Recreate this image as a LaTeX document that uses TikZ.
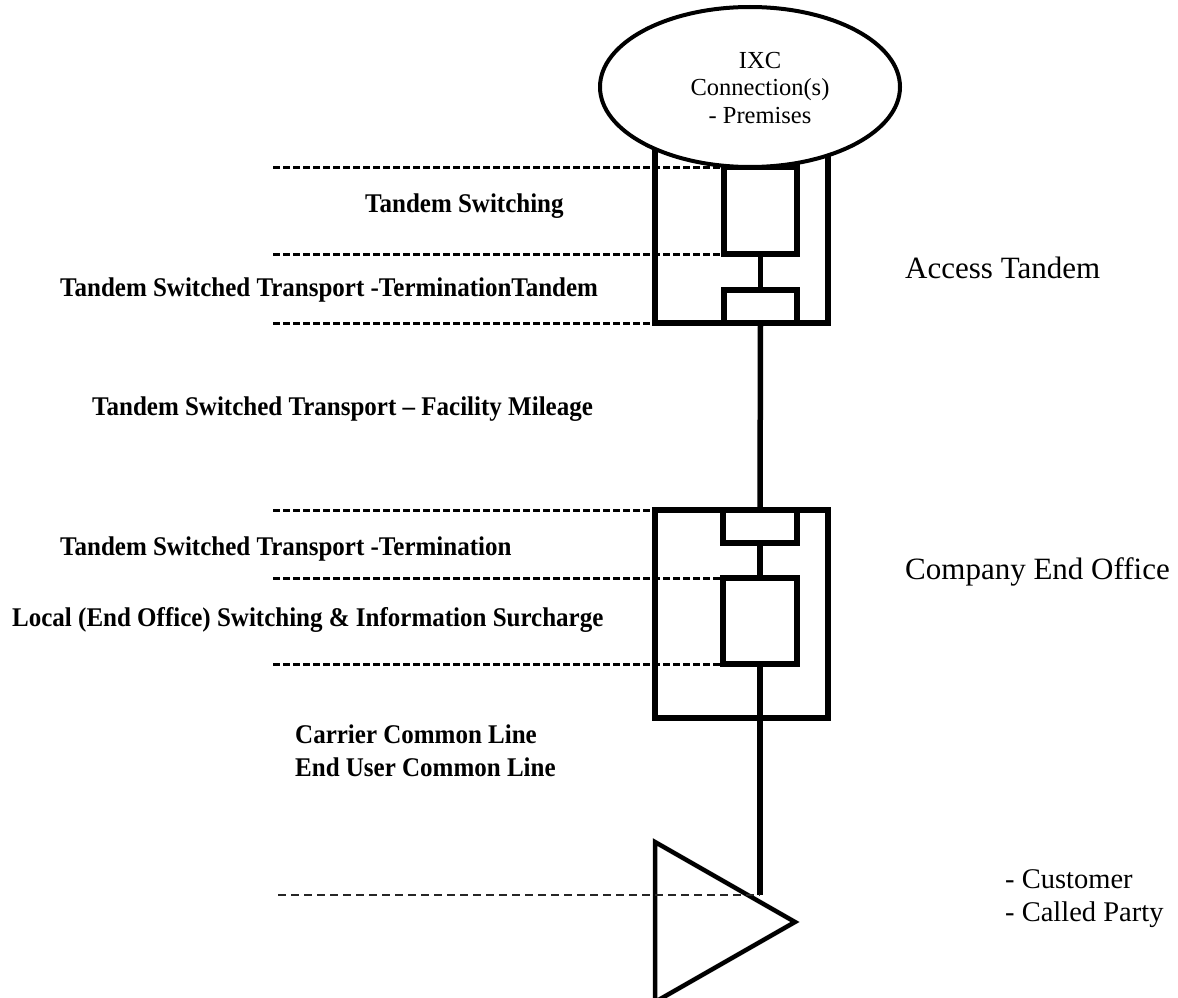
\documentclass[tikz,border=0pt]{standalone}
\usepackage{graphicx}
\usepackage{fontspec}
\setmainfont{Liberation Serif}
\usetikzlibrary{shapes.geometric}
\newcommand{\condtxt}[1]{\scalebox{0.926}[1]{#1}}
\begin{document}
\begin{tikzpicture}[x=1pt,y=-1pt,
  thickline/.style={line width=5.5pt},
  boxnode/.style={draw,line width=5.5pt,inner sep=0pt,outer sep=0pt,anchor=north west},
  dashline/.style={line width=3pt,dash pattern=on 7pt off 3pt},
  thindash/.style={line width=2.5pt,dash pattern=on 8pt off 5pt,draw=black!85},
  lbl/.style={font=\fontsize{27}{32}\selectfont\bfseries,anchor=base west,inner sep=0pt},
  rlbl/.style={font=\fontsize{31}{36}\selectfont,anchor=base west,inner sep=0pt},
  clbl/.style={font=\fontsize{28.5}{32}\selectfont,anchor=base west,inner sep=0pt}]
\useasboundingbox (0,0) rectangle (1178,998);

% Access tandem boxes
\node[boxnode,minimum width=173pt,minimum height=183pt] (atbox) at (655,140) {};
\node[boxnode,minimum width=73pt,minimum height=87pt] (atsw) at (724,167) {};
\node[boxnode,minimum width=73pt,minimum height=33pt] (attr) at (724,290) {};

% IXC ellipse
\node[draw,ellipse,line width=4pt,fill=white,minimum width=300pt,minimum height=160pt,inner sep=0pt] (ixc) at (750,87) {};
\node[font=\fontsize{24.5}{27.5}\selectfont,align=center,inner sep=0pt] (ixctext) at (760,88) {IXC\\Connection(s)\\- Premises};

% End office boxes
\node[boxnode,minimum width=173pt,minimum height=208pt] (eobox) at (655,510) {};
\node[boxnode,minimum width=74pt,minimum height=33pt] (eotr) at (723,510) {};
\node[boxnode,minimum width=74pt,minimum height=86pt] (eosw) at (723,578) {};

% Customer triangle
\coordinate (t1) at (655,842);
\coordinate (t2) at (795,922);
\coordinate (t3) at (655,1002);
\draw[line width=4.5pt,line join=miter] (t1) -- (t2) -- (t3) -- cycle;

% vertical connections
\coordinate (lineend) at (760,895);
\draw[thickline] (atsw.south) -- (attr.north);
\draw[thickline] (attr.south) -- (eotr.north);
\draw[thickline] (eotr.south) -- (eosw.north);
\draw[thickline] (eosw.south) -- (lineend);

% dashed lines
\coordinate (d1) at (273,167);
\coordinate (d2) at (273,254);
\coordinate (d3) at (273,323);
\coordinate (d4) at (273,510);
\coordinate (d5) at (273,578);
\coordinate (d6) at (273,664);
\coordinate (d7) at (278,895);
\draw[dashline] (d1) -- (atsw.north west);
\draw[dashline] (d2) -- (atsw.south west);
\draw[dashline] (d3) -- (atbox.south west);
\draw[dashline] (d4) -- (eobox.north west);
\draw[dashline] (d5) -- (eosw.north west);
\draw[dashline] (d6) -- (eosw.south west);
\draw[thindash] (d7) -- (lineend);

% labels
\node[lbl] (l1) at (365,212) {\condtxt{Tandem Switching}};
\node[lbl] (l2) at (60,296) {\condtxt{Tandem Switched Transport -TerminationTandem}};
\node[lbl] (l3) at (92,415) {\condtxt{Tandem Switched Transport -- Facility Mileage}};
\node[lbl] (l4) at (60,555) {\condtxt{Tandem Switched Transport -Termination}};
\node[lbl] (l5) at (12,626) {\condtxt{Local (End Office) Switching \& Information Surcharge}};
\node[lbl] (l6) at (295,743) {\condtxt{Carrier Common Line}};
\node[lbl] (l7) at (295,776) {\condtxt{End User Common Line}};
\node[rlbl] (r1) at (905,278) {Access Tandem};
\node[rlbl] (r2) at (905,579) {Company End Office};
\node[clbl] (c1) at (1005,888) {- Customer};
\node[clbl] (c2) at (1005,921) {- Called Party};
\end{tikzpicture}
\end{document}
